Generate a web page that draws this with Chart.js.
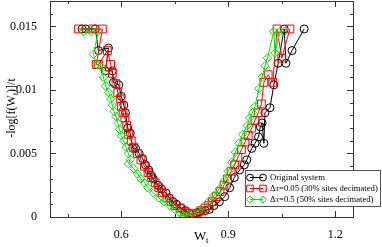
<!DOCTYPE html>
<html>
<head>
<meta charset="utf-8">
<script src="https://cdn.jsdelivr.net/npm/chart.js@4"></script>
<style>
  html, body { margin: 0; padding: 0; background: #fff; }
  #chart { display: block; }
</style>
</head>
<body>
<canvas id="chart" width="382" height="247"></canvas>
<script>
// Data (x = W_t, y = -log[f(W_t)]/t)
const originalPts = [
  [0.49,0.0148],[0.50,0.0148],[0.527,0.0148],[0.536,0.0131],[0.564,0.0133],[0.555,0.0115],
  [0.575,0.0115],[0.578,0.0106],[0.593,0.0104],[0.60,0.0095],[0.607,0.0088],[0.612,0.0082],
  [0.618,0.0070],[0.625,0.0066],[0.632,0.0054],[0.64,0.0054],[0.65,0.0050],[0.66,0.0046],
  [0.668,0.0041],[0.677,0.0037],[0.683,0.0033],[0.69,0.0030],[0.703,0.0025],[0.713,0.0022],
  [0.725,0.0019],[0.735,0.0015],[0.745,0.0012],[0.755,0.0010],[0.768,0.0007],[0.78,0.0005],
  [0.79,0.0003],[0.80,0.0002],[0.81,0.0003],[0.82,0.0004],[0.835,0.0005],[0.847,0.0006],
  [0.86,0.0009],[0.875,0.0012],[0.89,0.0016],[0.904,0.0023],[0.917,0.0031],[0.932,0.0037],
  [0.945,0.0041],[0.952,0.0045],[0.966,0.0054],[0.975,0.0058],[0.985,0.0063],[0.99,0.0071],
  [0.995,0.0074],[1.0,0.0058],[1.003,0.0082],[1.017,0.0086],[1.028,0.0104],[1.04,0.0121],
  [1.057,0.0148],[1.062,0.0121],[1.079,0.0131],[1.113,0.0148]
];
const dt005Pts = [
  [0.48,0.0148],[0.52,0.0148],[0.547,0.0148],[0.53,0.0120],[0.536,0.0120],[0.561,0.0131],
  [0.57,0.0120],[0.575,0.0113],[0.585,0.0105],[0.59,0.0098],[0.597,0.0093],[0.60,0.0087],
  [0.605,0.0082],[0.61,0.0078],[0.615,0.0072],[0.62,0.0065],[0.628,0.0060],[0.635,0.0055],
  [0.645,0.0050],[0.655,0.0045],[0.665,0.0040],[0.675,0.0035],[0.685,0.0031],[0.695,0.0027],
  [0.705,0.0023],[0.715,0.0019],[0.728,0.0015],[0.74,0.0012],[0.752,0.0009],[0.765,0.0007],
  [0.778,0.0004],[0.79,0.0003],[0.80,0.0002],[0.812,0.0003],[0.823,0.0005],[0.835,0.0007],
  [0.845,0.0009],[0.855,0.0012],[0.866,0.0016],[0.877,0.0020],[0.888,0.0025],[0.898,0.0030],
  [0.908,0.0036],[0.918,0.0041],[0.927,0.0047],[0.937,0.0053],[0.947,0.0059],[0.956,0.0064],
  [0.966,0.0070],[0.975,0.0076],[0.984,0.0082],[0.993,0.0089],[1.0,0.0106],[1.012,0.0112],
  [1.025,0.0106],[1.037,0.0148],[1.05,0.0125],[1.073,0.0148]
];
const dt05Pts = [
  [0.494,0.0146],[0.515,0.0146],[0.535,0.0146],[0.522,0.0128],[0.53,0.0120],[0.545,0.0118],
  [0.55,0.0110],[0.556,0.0103],[0.565,0.0098],[0.57,0.0093],[0.575,0.0088],[0.58,0.0083],
  [0.585,0.0079],[0.59,0.0074],[0.595,0.0069],[0.60,0.0064],[0.607,0.0060],[0.613,0.0055],
  [0.62,0.0050],[0.625,0.0045],[0.62,0.0042],[0.635,0.0038],[0.645,0.0034],[0.655,0.0030],
  [0.665,0.0027],[0.675,0.0023],[0.69,0.0019],[0.705,0.0015],[0.72,0.0012],[0.735,0.0009],
  [0.75,0.0006],[0.765,0.0003],[0.775,0.0001],[0.79,0.0002],[0.80,0.0003],[0.815,0.0005],
  [0.83,0.0008],[0.845,0.0012],[0.86,0.0017],[0.875,0.0022],[0.89,0.0029],[0.90,0.0036],
  [0.91,0.0043],[0.92,0.0051],[0.93,0.0058],[0.94,0.0065],[0.953,0.0072],[0.96,0.0078],
  [0.968,0.0082],[0.975,0.0087],[0.986,0.0101],[0.995,0.0110],[1.003,0.0119],[1.01,0.0125],
  [1.028,0.0146],[1.031,0.0129],[1.045,0.0146],[1.057,0.0146]
];

const seriesLabels = ['Original system', '\u0394\u03c4=0.05 (30% sites decimated)', '\u0394\u03c4=0.5 (50% sites decimated)'];
const xMajorTicks = [0.6, 0.9, 1.2];
const xMinorTicks = [0.45, 0.75, 1.05];
const yMajorTicks = [0, 0.005, 0.01, 0.015];
const yMinorTicks = [0.001,0.002,0.003,0.004,0.006,0.007,0.008,0.009,0.011,0.012,0.013,0.014,0.016];
const yTickText = ['0', '0.005', '0.01', '0.015'];

const serif = '"Liberation Serif", "DejaVu Serif", serif';
const colors = ['#000000', '#ff0000', '#00e600'];
const pointStyles = ['circle', 'rect', 'rectRot'];
const pointRadii = [4, 5.5, 4.2];

function toXY(pts) {
  return pts.map(p => ({ x: p[0], y: p[1] }));
}

// inward ticks, frame, axis titles and the legend box
const framePlugin = {
  id: 'frame',
  afterDraw(chart) {
    const ctx = chart.ctx;
    const a = chart.chartArea;
    const xs = chart.scales.x, ys = chart.scales.y;
    ctx.save();
    ctx.strokeStyle = '#333';
    ctx.lineWidth = 1;
    const tick = (x1, y1, x2, y2) => {
      ctx.beginPath(); ctx.moveTo(x1, y1); ctx.lineTo(x2, y2); ctx.stroke();
    };
    xMajorTicks.concat(xMinorTicks).forEach(v => {
      const len = xMajorTicks.includes(v) ? 6 : 3;
      const px = Math.round(xs.getPixelForValue(v)) + 0.5;
      tick(px, a.bottom, px, a.bottom - len);
      tick(px, a.top, px, a.top + len);
    });
    yMajorTicks.concat(yMinorTicks).forEach(v => {
      const len = yMajorTicks.includes(v) ? 6 : 3;
      const py = Math.round(ys.getPixelForValue(v)) + 0.5;
      tick(a.left, py, a.left + len, py);
      tick(a.right, py, a.right - len, py);
    });
    ctx.strokeRect(Math.round(a.left) + 0.5, Math.round(a.top) + 0.5,
      Math.round(a.right - a.left), Math.round(a.bottom - a.top));

    // axis titles
    ctx.fillStyle = '#000';
    ctx.textBaseline = 'alphabetic';
    ctx.font = '13px ' + serif;
    ctx.textAlign = 'left';
    ctx.fillText('W', 194, 240);
    ctx.font = '9px ' + serif;
    ctx.fillText('t', 206, 243);

    ctx.save();
    ctx.translate(15, 108);
    ctx.rotate(-Math.PI / 2);
    const parts = [['-log[f(W', 12, 0], ['t', 8, 3], [')]/t', 12, 0]];
    let total = 0;
    parts.forEach(p => { ctx.font = p[1] + 'px ' + serif; total += ctx.measureText(p[0]).width; });
    let cx = -total / 2;
    parts.forEach(p => {
      ctx.font = p[1] + 'px ' + serif;
      ctx.fillText(p[0], cx, p[2]);
      cx += ctx.measureText(p[0]).width;
    });
    ctx.restore();

    // legend
    const lx = 245, ly = 170, lw = 135, lh = 36;
    ctx.fillStyle = '#fff';
    ctx.fillRect(lx, ly, lw, lh);
    ctx.strokeStyle = '#555';
    ctx.strokeRect(lx + 0.5, ly + 0.5, lw, lh);
    ctx.font = '10px ' + serif;
    const fit = 10 * 108 / ctx.measureText(seriesLabels[1]).width;
    seriesLabels.forEach((label, i) => {
      const y = ly + 7.5 + i * 11;
      ctx.strokeStyle = colors[i];
      tick(250, y, 263, y);
      ctx.fillStyle = 'rgba(0,0,0,0)';
      [250, 263].forEach(x => {
        Chart.helpers.drawPoint(ctx, {
          pointStyle: pointStyles[i], radius: pointRadii[i] * 0.85, borderWidth: 1
        }, x, y);
      });
      ctx.fillStyle = '#000';
      ctx.font = fit.toFixed(2) + 'px ' + serif;
      ctx.textBaseline = 'middle';
      ctx.fillText(label, 270, y + 0.5);
    });
    ctx.restore();
  }
};

const datasets = [dt05Pts, dt005Pts, originalPts].map((pts, k) => {
  const i = 2 - k;
  return {
    label: seriesLabels[i],
    data: toXY(pts),
    showLine: true,
    borderColor: colors[i],
    borderWidth: 1,
    backgroundColor: 'rgba(0,0,0,0)',
    pointStyle: pointStyles[i],
    pointRadius: pointRadii[i],
    pointBorderColor: colors[i],
    pointBorderWidth: 1,
    pointBackgroundColor: 'rgba(0,0,0,0)',
    tension: 0
  };
});

new Chart(document.getElementById('chart'), {
  type: 'scatter',
  data: { datasets: datasets },
  options: {
    responsive: false,
    animation: false,
    layout: { autoPadding: false, padding: { top: 1, right: 29, left: 0, bottom: 0 } },
    plugins: { legend: { display: false }, tooltip: { enabled: false } },
    scales: {
      x: {
        type: 'linear', min: 0.4, max: 1.25,
        grid: { display: false }, border: { display: false },
        afterBuildTicks: s => { s.ticks = xMajorTicks.map(v => ({ value: v })); },
        afterFit: s => { s.height = 30; s.paddingLeft = 0; s.paddingRight = 0; },
        ticks: {
          padding: 3, color: '#000', font: { family: serif, size: 12 },
          maxRotation: 0, callback: v => String(v)
        }
      },
      y: {
        type: 'linear', min: 0, max: 0.017,
        grid: { display: false }, border: { display: false },
        afterBuildTicks: s => { s.ticks = yMajorTicks.map(v => ({ value: v })); },
        afterFit: s => { s.width = 50; s.paddingTop = 0; s.paddingBottom = 0; },
        ticks: {
          padding: 5, color: '#000', font: { family: serif, size: 12 },
          callback: v => yTickText[yMajorTicks.indexOf(v)] ?? ''
        }
      }
    }
  },
  plugins: [framePlugin]
});
</script>
</body>
</html>
